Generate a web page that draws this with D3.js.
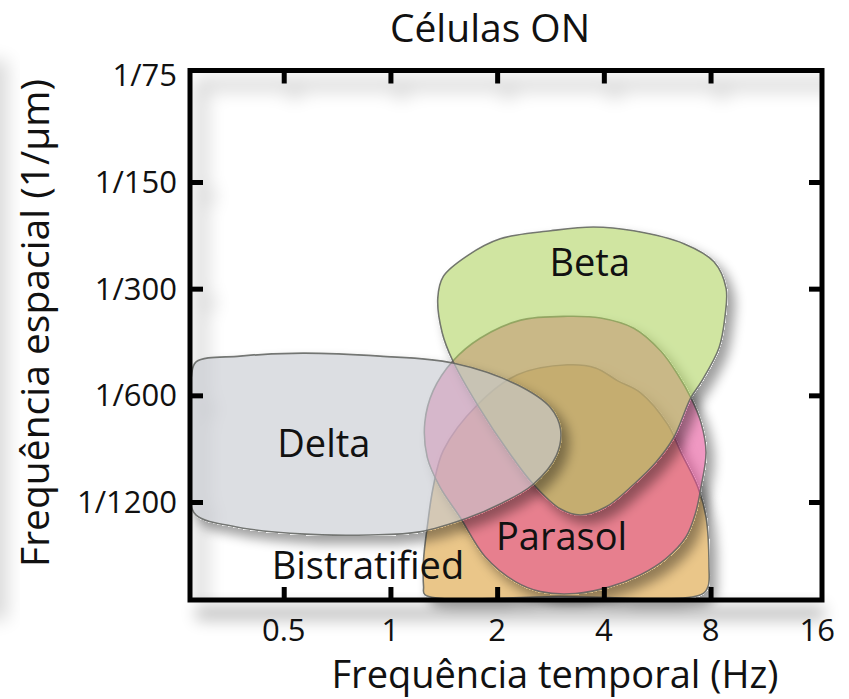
<!DOCTYPE html>
<html>
<head>
<meta charset="utf-8">
<script src="https://cdn.jsdelivr.net/npm/d3@7"></script>
<style>
  body { margin: 0; background: #fff; }
  svg { display: block; }
  text { font-family: "Open Sans", "Noto Sans", sans-serif; fill: #111; }
</style>
</head>
<body>
<svg id="chart" width="849" height="699"></svg>
<script>
// Tick values
const xTickValues = [0.5, 1, 2, 4, 8, 16];
const xTickMarks = [0.5, 1, 2, 4, 8];
const yTickPeriods = [75, 150, 300, 600, 1200];        // spatial period (µm), label shown as 1/period
const yTickMarks = [150, 300, 600, 1200];

// Tuning regions: temporal frequency (Hz) and spatial period (µm) of each outline vertex
const bistratHz = [3.16, 3.79, 4.38, 5.08, 6.06, 6.60, 7.37, 7.77, 7.92, 7.87, 7.52, 3.02, 1.25, 1.24, 1.24, 1.27, 1.32, 1.41, 1.76, 2.28];
const bistratUm = [492, 502, 546, 590, 726, 869, 1090, 1323, 1827, 2079, 2190, 2218, 2190, 2079, 1746, 1411, 1090, 858, 638, 525];

const parasolHz = [3.16, 2.33, 1.79, 1.50, 1.32, 1.25, 1.27, 1.38, 1.57, 1.85, 2.25, 2.65, 3.33, 4.18, 5.08, 5.98, 6.82, 7.27, 7.52, 7.77, 7.52, 7.04, 6.47, 5.79, 4.86, 3.92];
const parasolUm = [359, 368, 414, 480, 582, 716, 898, 1090, 1323, 1713, 2013, 2148, 2175, 2079, 1924, 1735, 1506, 1281, 1090, 869, 716, 609, 525, 450, 388, 363];

const betaHz = [1.36, 1.41, 1.65, 2.04, 2.83, 3.74, 4.86, 6.73, 8.18, 8.85, 8.79, 8.45, 7.52, 7.04, 6.30, 5.61, 4.86, 4.05, 3.44, 3.02, 2.53, 2.18, 1.76, 1.50, 1.40];
const betaUm = [319, 277, 242, 217, 206, 201, 206, 224, 252, 299, 359, 441, 551, 609, 789, 927, 1069, 1240, 1306, 1256, 1069, 881, 638, 480, 400];

const deltaHz = [0.274, 0.283, 0.376, 0.566, 0.935, 1.50, 2.28, 2.83, 3.02, 2.94, 2.53, 2.04, 1.65, 1.21, 0.876, 0.555, 0.368, 0.283, 0.271, 0.269];
const deltaUm = [536, 483, 465, 456, 465, 486, 560, 650, 749, 886, 1069, 1216, 1332, 1457, 1486, 1476, 1411, 1306, 1163, 789];

// Cell-type names and label anchors (Hz, µm)
const cellNames = ["Bistratified", "Parasol", "Beta", "Delta"];
const labelHz = [0.864, 3.04, 3.65, 0.649];
const labelUm = [1975, 1638, 277, 898];

const svg = d3.select("#chart");
const W = 849, H = 699;
const plot = { left: 190, right: 822, top: 70.5, bottom: 600 };

const x = d3.scaleLog().base(2).domain([0.272, 16.5]).range([plot.left, plot.right]);
const y = d3.scaleLog().base(2).domain([1 / 72.7, 1 / 2268]).range([plot.top, plot.bottom]);

const defs = svg.append("defs");

// drop shadow that only shows outside the shape casting it
const ds = defs.append("filter").attr("id", "drop")
  .attr("filterUnits", "userSpaceOnUse").attr("x", 0).attr("y", 0).attr("width", W).attr("height", H);
ds.append("feComponentTransfer").attr("in", "SourceAlpha").attr("result", "solid")
  .append("feFuncA").attr("type", "linear").attr("slope", 30);
ds.append("feGaussianBlur").attr("in", "solid").attr("stdDeviation", 6).attr("result", "b");
ds.append("feOffset").attr("in", "b").attr("dx", 7).attr("dy", 8).attr("result", "o");
ds.append("feComponentTransfer").attr("in", "o").attr("result", "s")
  .append("feFuncA").attr("type", "linear").attr("slope", 0.38);
ds.append("feComposite").attr("in", "s").attr("in2", "solid").attr("operator", "out").attr("result", "so");
const m = ds.append("feMerge");
m.append("feMergeNode").attr("in", "so");
m.append("feMergeNode").attr("in", "SourceGraphic");

const blur = defs.append("filter").attr("id", "blur").attr("x", "-30%").attr("y", "-30%").attr("width", "160%").attr("height", "160%");
blur.append("feGaussianBlur").attr("stdDeviation", 9);
const blur2 = defs.append("filter").attr("id", "blur2").attr("x", "-30%").attr("y", "-100%").attr("width", "160%").attr("height", "400%");
blur2.append("feGaussianBlur").attr("stdDeviation", 8);

defs.append("clipPath").attr("id", "inner")
  .append("rect").attr("x", plot.left).attr("y", plot.top).attr("width", plot.right - plot.left).attr("height", plot.bottom - plot.top);
defs.append("clipPath").attr("id", "regions")
  .append("rect").attr("x", plot.left).attr("y", plot.top).attr("width", W - plot.left).attr("height", H - plot.top);

// faint page shading on the far left
svg.append("rect").attr("x", -30).attr("y", 60).attr("width", 38).attr("height", 560)
  .attr("fill", "#000").attr("opacity", 0.14).attr("filter", "url(#blur)");

// shadow beneath the bottom axis
svg.append("rect").attr("x", plot.left + 6).attr("y", plot.bottom + 6).attr("width", plot.right - plot.left - 4).attr("height", 14)
  .attr("fill", "#000").attr("opacity", 0.25).attr("filter", "url(#blur2)");

// inner shadow cast by the top and left frame edges
const inner = svg.append("g").attr("clip-path", "url(#inner)");
const shadowPath = d3.path();
shadowPath.moveTo(plot.right + 30, plot.top);
shadowPath.lineTo(plot.left, plot.top);
shadowPath.lineTo(plot.left, plot.bottom + 30);
xTickMarks.forEach(v => { shadowPath.moveTo(x(v), plot.top); shadowPath.lineTo(x(v), plot.top + 14); });
yTickMarks.forEach(p => { shadowPath.moveTo(plot.left, y(1 / p)); shadowPath.lineTo(plot.left + 14, y(1 / p)); });
inner.append("path").attr("d", shadowPath.toString())
  .attr("fill", "none").attr("stroke", "#000").attr("stroke-width", 12).attr("opacity", 0.17)
  .attr("transform", "translate(11,14)").attr("filter", "url(#blur)");

// regions
const regionData = [
  { hz: bistratHz, um: bistratUm },
  { hz: parasolHz, um: parasolUm },
  { hz: betaHz, um: betaUm },
  { hz: deltaHz, um: deltaUm }
];
const regionStyle = [
  { fill: "rgb(230,188,116)", op: 0.85 },
  { fill: "rgb(228,72,146)", op: 0.56 },
  { fill: "rgb(172,208,90)", op: 0.56 },
  { fill: "rgb(198,201,208)", op: 0.62 }
];

const outline = d3.line()
  .x(d => x(d[0]))
  .y(d => y(1 / d[1]))
  .curve(d3.curveCatmullRomClosed.alpha(0.5));

const regions = svg.append("g").attr("clip-path", "url(#regions)");
regionData.forEach((r, i) => {
  const pts = r.hz.map((h, k) => [h, r.um[k]]);
  regions.append("path")
    .attr("d", outline(pts))
    .attr("fill", regionStyle[i].fill)
    .attr("fill-opacity", regionStyle[i].op)
    .attr("stroke", "#5f625e")
    .attr("stroke-opacity", 0.85)
    .attr("stroke-width", 1.6)
    .attr("filter", "url(#drop)");
});

// region labels
cellNames.forEach((name, i) => {
  svg.append("text")
    .attr("x", x(labelHz[i]))
    .attr("y", y(1 / labelUm[i]))
    .attr("text-anchor", "middle")
    .attr("font-size", 38)
    .text(name);
});

// frame
svg.append("rect")
  .attr("x", plot.left).attr("y", plot.top)
  .attr("width", plot.right - plot.left).attr("height", plot.bottom - plot.top)
  .attr("fill", "none").attr("stroke", "#000").attr("stroke-width", 5);

// axes: ticks point inward on all four sides
const xAxisBottom = d3.axisBottom(x).tickValues(xTickMarks).tickSize(-13).tickFormat("");
const xAxisTop = d3.axisTop(x).tickValues(xTickMarks).tickSize(-13).tickFormat("");
const yAxisLeft = d3.axisLeft(y).tickValues(yTickMarks.map(p => 1 / p)).tickSize(-13).tickFormat("");
const yAxisRight = d3.axisRight(y).tickValues(yTickMarks.map(p => 1 / p)).tickSize(-13).tickFormat("");

function styleAxis(g) {
  g.select(".domain").remove();
  g.selectAll(".tick line").attr("stroke", "#000").attr("stroke-width", 5);
}
svg.append("g").attr("transform", `translate(0,${plot.bottom})`).call(xAxisBottom).call(styleAxis);
svg.append("g").attr("transform", `translate(0,${plot.top})`).call(xAxisTop).call(styleAxis);
svg.append("g").attr("transform", `translate(${plot.left},0)`).call(yAxisLeft).call(styleAxis);
svg.append("g").attr("transform", `translate(${plot.right},0)`).call(yAxisRight).call(styleAxis);

// tick labels
svg.append("g").selectAll("text").data(xTickValues).join("text")
  .attr("x", d => x(d)).attr("y", 641)
  .attr("text-anchor", "middle").attr("font-size", 31)
  .text(d => String(d));

svg.append("g").selectAll("text").data(yTickPeriods).join("text")
  .attr("x", 177).attr("y", d => y(1 / d) + 11)
  .attr("text-anchor", "end").attr("font-size", 31)
  .text(d => "1/" + d);

// titles
svg.append("text").attr("x", 490).attr("y", 42).attr("text-anchor", "middle").attr("font-size", 39).text("Células ON");
svg.append("text").attr("x", 555).attr("y", 688).attr("text-anchor", "middle").attr("font-size", 38).text("Frequência temporal (Hz)");
svg.append("text").attr("transform", "translate(49,323) rotate(-90)").attr("text-anchor", "middle").attr("font-size", 39).text("Frequência espacial (1/μm)");
</script>
</body>
</html>
